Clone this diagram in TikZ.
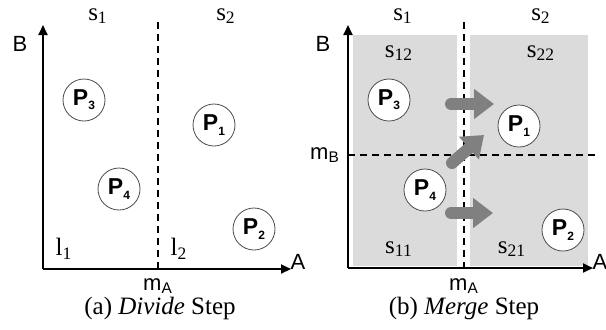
\documentclass[tikz,border=0pt]{standalone}
\usepackage{fontspec}
\setmainfont{Liberation Serif}
\setsansfont{Liberation Sans}
\usetikzlibrary{arrows.meta}
\newcommand{\pidx}[1]{\raisebox{-0.35ex}{\fontsize{6}{6}\selectfont #1}}
\begin{document}
\begin{tikzpicture}[x=0.5pt,y=-0.5pt,every node/.style={font=\fontsize{12.5}{14}\selectfont,inner sep=0pt},achse/.style={line width=1pt,-{Triangle[length=5pt,width=4.5pt]}},teiler/.style={line width=0.9pt,dash pattern=on 3.5pt off 2.5pt},punkt/.style={circle,draw=black!70,line width=0.4pt,fill=white,minimum size=21pt,font=\fontsize{11.5}{13}\selectfont\sffamily\bfseries},zone/.style={fill=black!14,draw=none},schub/.style={draw=black!50,line width=6pt,line cap=round,-{Triangle[length=10pt,width=14.5pt]}},achsname/.style={font=\fontsize{11}{13}\selectfont\sffamily}]
\useasboundingbox (0,0) rectangle (606,329);
% (a) Divide Step
\coordinate (o1) at (43,269);\coordinate (yb1) at (43,25);\coordinate (xa1) at (291,269);
\coordinate (ma1t) at (158,22);\coordinate (ma1) at (158,269);
\draw[teiler] (ma1t)--(ma1);
\draw[achse] (o1)--(yb1);\draw[achse] (o1)--(xa1);
\node[achsname] (b1) at (20,44) {B};
\node[achsname] (a1) at (298,262) {A};
\node[achsname] (mA1) at (158,286) {m\textsubscript{A}};
\node (s1a) at (98,16) {s\textsubscript{1}};
\node (s2a) at (226,16) {s\textsubscript{2}};
\node (l1) at (64,249) {l\textsubscript{1}};
\node (l2) at (179,249) {l\textsubscript{2}};
\node[punkt] (p3a) at (84,100) {P\pidx{3}};
\node[punkt] (p1a) at (214,125) {P\pidx{1}};
\node[punkt] (p4a) at (119,189) {P\pidx{4}};
\node[punkt] (p2a) at (254,229) {P\pidx{2}};
\node (capa) at (160,308) {(a) \textit{Divide} Step};
% (b) Merge Step
\fill[zone] (353,35) rectangle (457,266);
\fill[zone] (470,35) rectangle (588,266);
\coordinate (o2) at (348,268);\coordinate (yb2) at (348,25);\coordinate (xa2) at (593,268);
\coordinate (ma2t) at (464,22);\coordinate (ma2) at (464,268);
\coordinate (mb2l) at (348,155);\coordinate (mb2r) at (597,155);
\draw[teiler] (ma2t)--(ma2);\draw[teiler] (mb2l)--(mb2r);
\draw[achse] (o2)--(yb2);\draw[achse] (o2)--(xa2);
\node[achsname] (b2) at (323,44) {B};
\node[achsname] (a2) at (600,262) {A};
\node[achsname] (mA2) at (464,286) {m\textsubscript{A}};
\node[achsname] (mB2) at (325,155) {m\textsubscript{B}};
\node (s1b) at (403,16) {s\textsubscript{1}};
\node (s2b) at (541,16) {s\textsubscript{2}};
\node (s12) at (399,53) {s\textsubscript{12}};
\node (s22) at (541,53) {s\textsubscript{22}};
\node (s11) at (399,249) {s\textsubscript{11}};
\node (s21) at (512,249) {s\textsubscript{21}};
\coordinate (u1) at (451,104);\coordinate (v1) at (494,104);
\coordinate (u2) at (452,163);\coordinate (v2) at (484,135);
\coordinate (u3) at (451,213);\coordinate (v3) at (493,213);
\draw[schub] (u1)--(v1);\draw[schub] (u2)--(v2);\draw[schub] (u3)--(v3);
\node[punkt] (p3b) at (389,100) {P\pidx{3}};
\node[punkt] (p1b) at (519,126) {P\pidx{1}};
\node[punkt] (p4b) at (425,190) {P\pidx{4}};
\node[punkt] (p2b) at (563,230) {P\pidx{2}};
\node (capb) at (464,308) {(b) \textit{Merge} Step};
\end{tikzpicture}
\end{document}
